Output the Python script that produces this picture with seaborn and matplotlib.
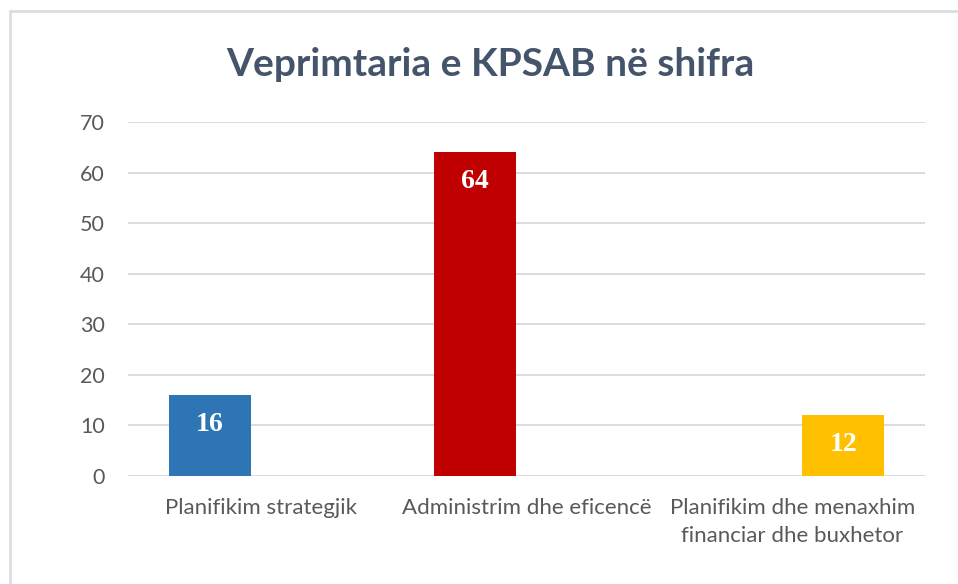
"""
Veprimtaria e KPSAB në shifra - grafik me shtylla
"""

import matplotlib.pyplot as plt
import pandas as pd
import seaborn as sns
from matplotlib.patches import Rectangle

KATEGORITE = [
    "Planifikim strategjik",
    "Administrim dhe eficencë",
    "Planifikim dhe menaxhim\nfinanciar dhe buxhetor",
]
VLERAT = [16, 64, 12]
SERITE = ["Seria 1", "Seria 1", "Seria 2"]
NGJYRAT = ["#2e75b6", "#c00000", "#ffc000"]
Y_TICKS = [0, 10, 20, 30, 40, 50, 60, 70]

TITLE = "Veprimtaria e KPSAB në shifra"
TEXT_COLOR = "#595959"
TITLE_COLOR = "#44546a"
GRID_COLOR = "#d9d9d9"


def main():
    sns.set_theme(style="white")
    plt.rcParams["font.family"] = ["Lato", "DejaVu Sans"]

    df = pd.DataFrame({"kategoria": KATEGORITE, "vlera": VLERAT, "seria": SERITE})

    fig = plt.figure(figsize=(9.58, 5.84), dpi=100)
    fig.patch.set_facecolor("white")
    ax = fig.add_axes([0.1336, 0.1849, 0.832, 0.6062])

    sns.barplot(
        data=df,
        x="kategoria",
        y="vlera",
        hue="seria",
        hue_order=["Seria 1", "Seria 2"],
        order=KATEGORITE,
        width=0.77,
        gap=0.2,
        dodge=True,
        legend=False,
        ax=ax,
        zorder=3,
    )

    # ngjyrë e veçantë për secilën kategori
    for container in ax.containers:
        for bar in container:
            if bar.get_height() == 0 or pd.isna(bar.get_height()):
                continue
            idx = int(round(bar.get_x() + bar.get_width() / 2))
            bar.set_facecolor(NGJYRAT[idx])
            bar.set_edgecolor("none")
            ax.annotate(
                f"{bar.get_height():.0f}",
                (bar.get_x() + bar.get_width() / 2, bar.get_height()),
                xytext=(0, -21),
                textcoords="offset points",
                ha="center",
                va="center",
                color="white",
                fontsize=20,
                fontweight="bold",
                family="Liberation Serif",
                zorder=4,
            )

    ax.set_ylim(0, 70)
    ax.set_xlim(-0.5, 2.5)
    ax.set_yticks(Y_TICKS)
    ax.yaxis.grid(True, color=GRID_COLOR, lw=1.3, zorder=0)
    ax.xaxis.grid(False)
    sns.despine(ax=ax, left=True, bottom=True)
    ax.tick_params(axis="y", length=0, pad=16.5, labelsize=15.5, labelcolor=TEXT_COLOR)
    ax.tick_params(axis="x", length=0, pad=16, labelsize=16, labelcolor=TEXT_COLOR)
    for lbl in ax.get_xticklabels():
        lbl.set_va("top")
        lbl.set_linespacing(1.5)
    ax.set(xlabel=None, ylabel=None)

    fig.text(
        0.512,
        0.890,
        TITLE,
        ha="center",
        va="center",
        fontsize=28,
        fontweight="bold",
        color=TITLE_COLOR,
    )

    # kornizë e hollë rreth grafikut
    fig.patches.append(
        Rectangle(
            (10 / 958, -0.1),
            1.2,
            1 - 11 / 584 + 0.1,
            transform=fig.transFigure,
            fill=False,
            edgecolor="#dcdce4",
            lw=2,
        )
    )

    fig.savefig("out.png", dpi=100)


if __name__ == "__main__":
    main()
